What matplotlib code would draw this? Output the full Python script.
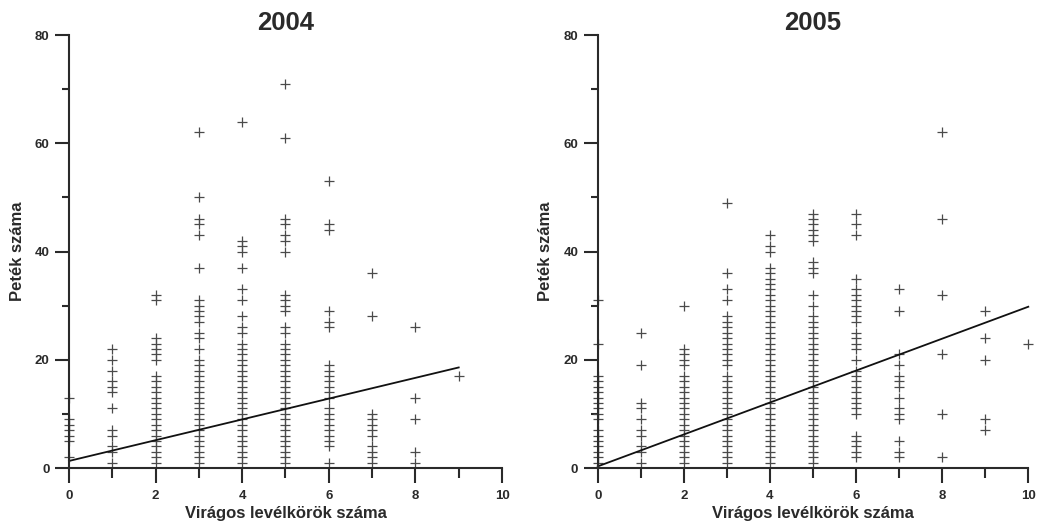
import numpy as np
import matplotlib
matplotlib.use("Agg")
import matplotlib.pyplot as plt
from matplotlib.ticker import MultipleLocator

plt.rcParams['font.family'] = ['Liberation Sans', 'DejaVu Sans']

years = ["2004", "2005"]
x_label = "Virágos levélkörök száma"
y_label = "Peték száma"

# egg counts per number of flowering whorls (index = whorl count)
eggs_2004 = [
    [2, 5, 6, 7, 8, 9, 13],
    [1, 3, 4, 6, 7, 11, 14, 15, 16, 18, 20, 22],
    list(range(1, 18)) + [20, 21, 22, 23, 24, 31, 32],
    list(range(1, 21)) + [22, 24, 25, 27, 28, 29, 30, 31, 37, 43, 45, 46, 50, 62],
    list(range(1, 24)) + [25, 26, 28, 31, 33, 37, 40, 41, 42, 64],
    list(range(1, 24)) + [25, 26, 29, 30, 31, 32, 40, 42, 43, 45, 46, 61, 71],
    [1, 4, 5, 6, 7, 8, 9, 10, 11, 13, 14, 15, 16, 17, 18, 19, 26, 27, 29, 44, 45, 53],
    [1, 2, 3, 4, 6, 7, 8, 9, 10, 28, 36],
    [1, 3, 9, 13, 26],
    [17],
]
eggs_2005 = [
    [1, 2, 3, 4, 5, 6, 7, 9, 10, 11, 12, 13, 14, 15, 16, 17, 23, 31],
    [1, 3, 4, 6, 7, 9, 11, 12, 19, 25],
    list(range(1, 18)) + [19, 20, 21, 22, 30],
    list(range(1, 18)) + list(range(19, 29)) + [31, 33, 36, 49],
    list(range(1, 38)) + [40, 41, 43],
    list(range(1, 29)) + [30, 32, 36, 37, 38, 42, 43, 44, 45, 46, 47],
    [2, 3, 4, 5, 6] + list(range(10, 19)) + [20, 22, 23, 24, 25] + list(range(27, 34)) + [35, 43, 45, 47],
    [2, 3, 5, 9, 10, 11, 13, 15, 16, 17, 19, 21, 29, 33],
    [2, 10, 21, 32, 46, 62],
    [7, 9, 20, 24, 29],
    [23],
]

# regression line (intercept, slope)
fit_2004 = (1.3, 1.92)
fit_2005 = (0.3, 2.95)

data = [eggs_2004, eggs_2005]
fits = [fit_2004, fit_2005]

fig = plt.figure(figsize=(10.37, 5.21), dpi=100)
axes_pos = [[0.0665, 0.1017, 0.4176, 0.831],
            [0.5764, 0.1017, 0.4152, 0.831]]
ylab_x = [-0.118, -0.122]

dark = "#2a2a2a"

for i in range(2):
    ax = fig.add_axes(axes_pos[i])
    xs, ys = [], []
    for k, col in enumerate(data[i]):
        xs += [k] * len(col)
        ys += col
    ax.plot(xs, ys, linestyle='none', marker='+', markersize=6.5,
            markeredgewidth=0.9, color="#4a4a4a", clip_on=False)

    b0, b1 = fits[i]
    xl = np.array([0, len(data[i]) - 1])
    ax.plot(xl, b0 + b1 * xl, color="#111111", linewidth=1.3, clip_on=False)

    ax.set_xlim(0, 10)
    ax.set_ylim(0, 80)
    ax.spines['top'].set_visible(False)
    ax.spines['right'].set_visible(False)
    for s in ['left', 'bottom']:
        ax.spines[s].set_linewidth(1.5)
        ax.spines[s].set_color(dark)

    ax.xaxis.set_major_locator(MultipleLocator(2))
    ax.xaxis.set_minor_locator(MultipleLocator(1))
    ax.yaxis.set_major_locator(MultipleLocator(20))
    ax.yaxis.set_minor_locator(MultipleLocator(10))
    ax.tick_params(axis='x', which='major', length=11, width=1.5, color=dark,
                   pad=5, labelsize=9.5, labelcolor=dark)
    ax.tick_params(axis='x', which='minor', length=7, width=1.5, color=dark)
    ax.tick_params(axis='y', which='major', length=10, width=1.5, color=dark,
                   pad=4, labelsize=9.5, labelcolor=dark)
    ax.tick_params(axis='y', which='minor', length=5, width=1.5, color=dark)
    for lab in ax.get_xticklabels() + ax.get_yticklabels():
        lab.set_fontweight('bold')

    ax.set_xlabel(x_label, fontsize=12, fontweight='bold', color=dark)
    ax.xaxis.set_label_coords(0.5, -0.104)
    ax.xaxis.label.set_va('center')
    ax.set_ylabel(y_label, fontsize=12, fontweight='bold', color=dark)
    ax.yaxis.set_label_coords(ylab_x[i], 0.5)
    ax.yaxis.label.set_va('center')

    ax.text(0.5, 1.028, years[i], transform=ax.transAxes, ha='center',
            va='center', fontsize=18.5, fontweight='bold', color=dark)

fig.savefig("out.png", dpi=100)
